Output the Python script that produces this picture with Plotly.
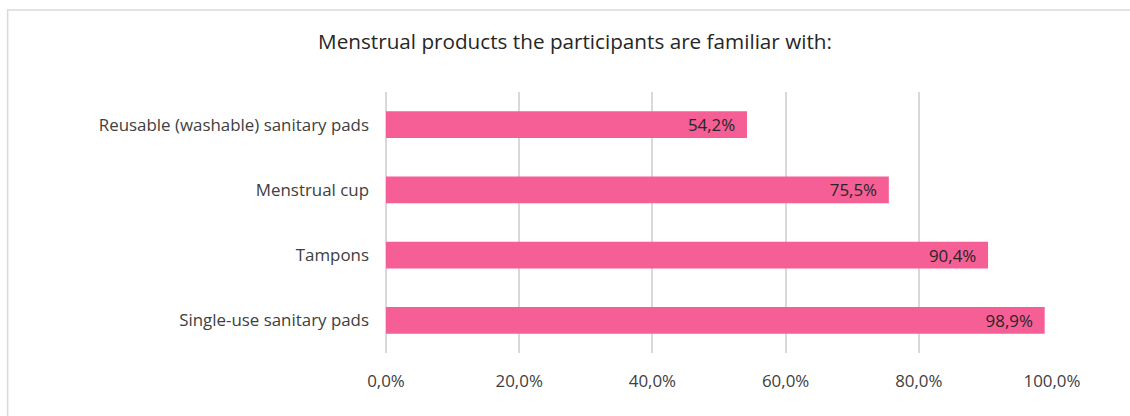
import plotly.graph_objects as go

categories = ["Reusable (washable) sanitary pads", "Menstrual cup", "Tampons", "Single-use sanitary pads"]
values = [54.2, 75.5, 90.4, 98.9]
value_labels = ["54,2%", "75,5%", "90,4%", "98,9%"]
tick_vals = [0, 20, 40, 60, 80, 100]
tick_text = ["0,0%", "20,0%", "40,0%", "60,0%", "80,0%", "100,0%"]

W, H = 1130, 416
L, R, T, B = 385.5, 78.3, 92, 63
pw, ph = W - L - R, H - T - B

def px_to_paper_x(px):
    return (px - L) / pw

def px_to_paper_y(py):
    return (H - B - py) / ph

FONT = "Open Sans"
NB = "\u00a0"
fig = go.Figure(go.Bar(
    y=categories,
    x=values,
    orientation="h",
    marker=dict(color="#F65E96", line=dict(width=0)),
    text=[t + NB * 2 for t in value_labels],
    textposition="inside",
    insidetextanchor="end",
    textfont=dict(family=FONT, size=16.9, color="#262626"),
    constraintext="none",
    hoverinfo="skip",
))

fig.update_layout(
    width=W, height=H,
    margin=dict(l=L, r=R, t=T, b=B),
    paper_bgcolor="white",
    plot_bgcolor="white",
    bargap=0.59,
    showlegend=False,
    title=dict(
        text="Menstrual products the participants are familiar with:",
        x=575 / W, xanchor="center",
        y=1 - 42 / H, yanchor="middle",
        font=dict(family=FONT, size=20.7, color="#262626"),
    ),
    xaxis=dict(
        range=[0, 100],
        tickvals=tick_vals,
        ticktext=tick_text,
        showgrid=True,
        gridcolor="#D9D9D9",
        gridwidth=1.5,
        zeroline=True,
        zerolinecolor="#D9D9D9",
        zerolinewidth=1.5,
        showline=False,
        ticks="",
        ticklabelstandoff=16,
        tickfont=dict(family=FONT, size=16.9, color="#404040"),
        fixedrange=True,
    ),
    yaxis=dict(
        categoryorder="array",
        categoryarray=categories[::-1],
        showgrid=False,
        showline=False,
        ticks="",
        ticklabelstandoff=16,
        tickfont=dict(family=FONT, size=16.9, color="#404040"),
        fixedrange=True,
    ),
    shapes=[dict(
        type="rect", xref="paper", yref="paper",
        x0=px_to_paper_x(7), x1=px_to_paper_x(W + 20),
        y0=px_to_paper_y(H + 20), y1=px_to_paper_y(10),
        line=dict(color="#D9D9D9", width=1.5),
        fillcolor="rgba(0,0,0,0)",
        layer="below",
    )],
)

fig.write_html("out.html")
